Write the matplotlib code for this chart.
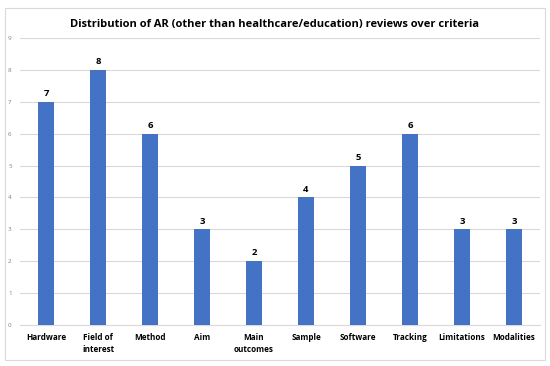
import matplotlib
matplotlib.use("Agg")
import matplotlib.pyplot as plt
from matplotlib.patches import Rectangle

categories = ["Hardware", "Field of\ninterest", "Method", "Aim", "Main\noutcomes",
              "Sample", "Software", "Tracking", "Limitations", "Modalities"]
values = [7, 8, 6, 3, 2, 4, 5, 6, 3, 3]
yticks = list(range(0, 10))
title = "Distribution of AR (other than healthcare/education) reviews over criteria"

plt.rcParams['font.family'] = ['Open Sans', 'DejaVu Sans']

W, H = 550, 366
fig = plt.figure(figsize=(W / 100, H / 100), dpi=100)
fig.patches.append(Rectangle((5 / W, 1 - 360 / H), 540 / W, 352 / H, transform=fig.transFigure,
                             fill=False, edgecolor="#D9D9D9", linewidth=0.8))
ax = fig.add_axes([20 / W, 1 - 325 / H, 520 / W, 287 / H])

x = list(range(len(categories)))
bars = ax.bar(x, values, width=0.31, color="#4472C4", zorder=3)
for xi, v in zip(x, values):
    ax.text(xi, v + 0.12, str(v), ha="center", va="bottom", fontsize=6.8, fontweight="bold")

ax.set_ylim(0, 9)
ax.set_xlim(-0.5, len(categories) - 0.5)
ax.set_yticks(yticks)
ax.set_yticklabels([str(t) for t in yticks], fontsize=4.5, color="#808080")
ax.set_xticks(x)
ax.set_xticklabels(categories, fontsize=5.9, fontweight="bold", va="top", linespacing=1.35)
ax.tick_params(axis="both", length=0)
ax.tick_params(axis="y", pad=6)
ax.tick_params(axis="x", pad=6)
ax.grid(axis="y", color="#D9D9D9", linewidth=0.8, zorder=0)
for s in ["top", "right", "left"]:
    ax.spines[s].set_visible(False)
ax.spines["bottom"].set_color("#D9D9D9")

fig.text(0.5, 1 - 24 / H, title, ha="center", va="center", fontsize=8.0, fontweight="bold")

fig.savefig("out.png", dpi=100)
